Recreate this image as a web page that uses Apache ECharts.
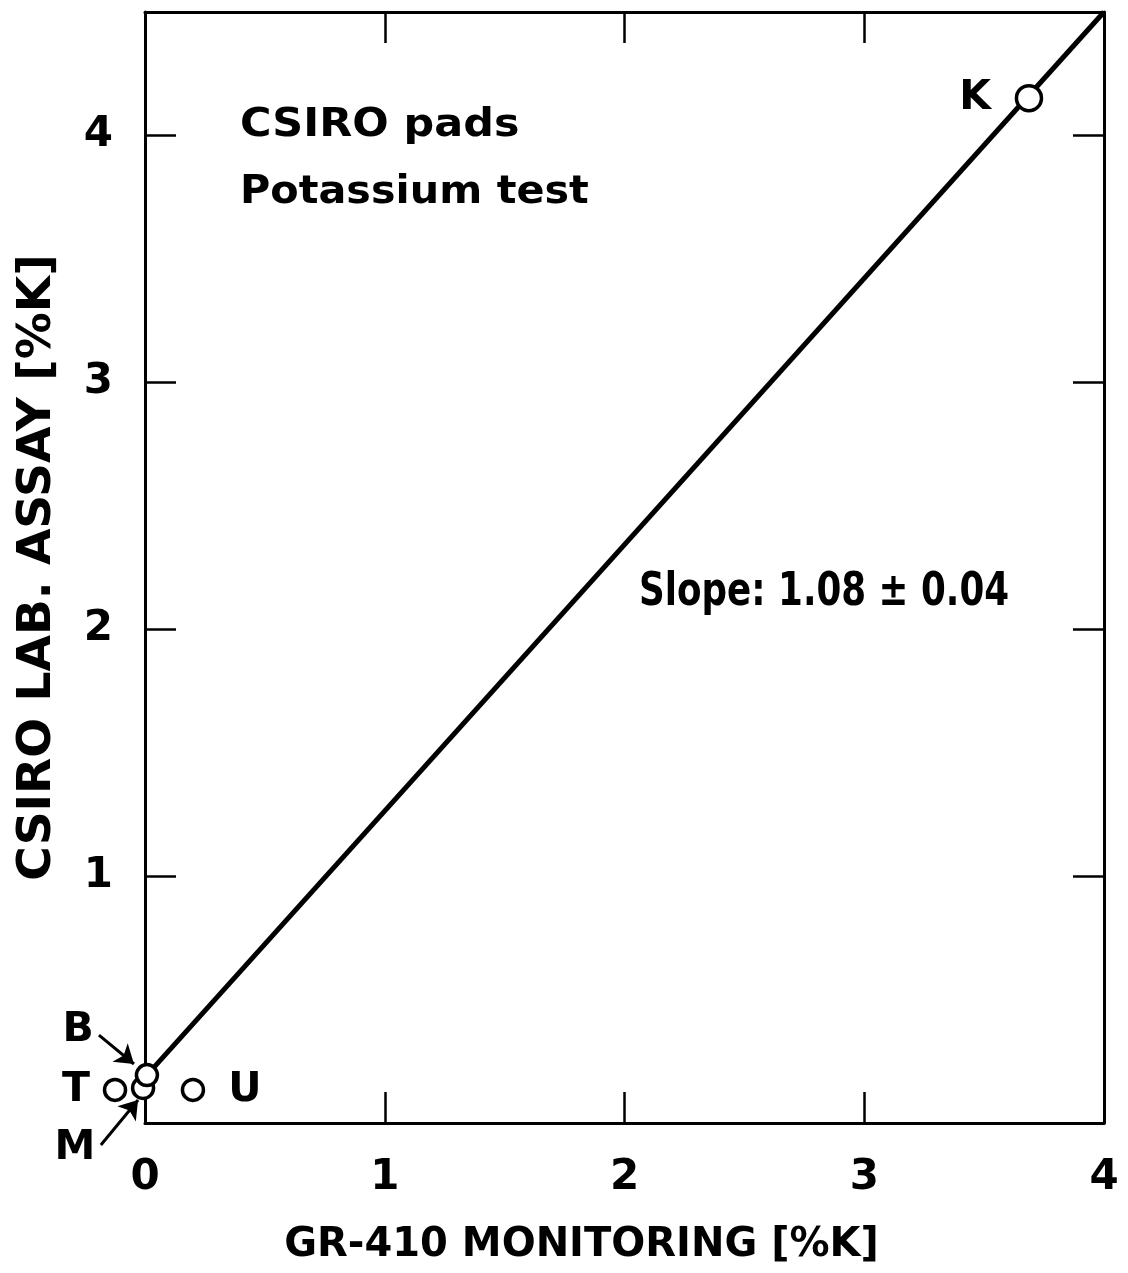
<!DOCTYPE html>
<html><head><meta charset="utf-8">
<script src="https://cdn.jsdelivr.net/npm/echarts@6/dist/echarts.min.js"></script>
<style>html,body{margin:0;padding:0;background:#fff}#c{width:1128px;height:1273px}</style>
</head><body><div id="c"></div>
<script>
// ---- data ----
const pointNames = ['K', 'T', 'U', 'M', 'B'];
const pointX = [3.687, -0.125, 0.200, -0.008, 0.008];
const pointY = [4.151, 0.134, 0.134, 0.142, 0.194];

const fitX = [0.008, 4.0];
const fitY = [0.194, 4.5];

const labelText = ['K', 'U', 'T', 'B', 'M'];
const labelX = [3.462, 0.417, -0.288, -0.279, -0.292];
const labelY = [4.150, 0.134, 0.134, 0.377, -0.101];

const arrowNames = ['B', 'M'];
const arrowFrom = [[-0.192, 0.356], [-0.184, -0.089]];
const arrowTo = [[-0.046, 0.239], [-0.029, 0.093]];

const xTicks = [0, 1, 2, 3, 4];
const yTicks = [1, 2, 3, 4];

const xTitle = 'GR-410 MONITORING [%K]';
const yTitle = 'CSIRO LAB. ASSAY [%K]';
const noteLines = ['CSIRO pads', 'Potassium test'];
const slopeText = 'Slope: 1.08 ± 0.04';

// ---- chart ----
const FONT = 'DejaVu Sans';
const chart = echarts.init(document.getElementById('c'), null, {renderer: 'canvas'});

const axisLineStyle = {color: '#000', width: 3};
const tickStyle = {inside: true, length: 31, lineStyle: {color: '#000', width: 2.5}};
const labelStyle = {color: '#000', fontFamily: FONT, fontWeight: 'bold', fontSize: 42};

const option = {
  backgroundColor: '#fff',
  animation: false,
  grid: {left: 145, right: 24, top: 12, bottom: 150, containLabel: false},
  xAxis: [
    {
      type: 'value', position: 'bottom', min: 0, max: 4, interval: 1,
      axisLine: {show: true, onZero: false, lineStyle: axisLineStyle},
      axisTick: tickStyle, splitLine: {show: false},
      axisLabel: Object.assign({margin: 34, formatter: v => xTicks.includes(v) ? String(v) : ''}, labelStyle),
      name: xTitle, nameLocation: 'middle', nameGap: 103,
      nameTextStyle: {color: '#000', fontFamily: FONT, fontWeight: 'bold', fontSize: 40, padding: [0, 86, 0, 0]}
    },
    {
      type: 'value', position: 'top', min: 0, max: 4, interval: 1,
      axisLine: {show: true, onZero: false, lineStyle: axisLineStyle},
      axisTick: tickStyle, splitLine: {show: false}, axisLabel: {show: false}
    }
  ],
  yAxis: [
    {
      type: 'value', position: 'left', min: 0, max: 4.5, interval: 1,
      axisLine: {show: true, onZero: false, lineStyle: axisLineStyle},
      axisTick: tickStyle, splitLine: {show: false},
      axisLabel: Object.assign({margin: 32, formatter: v => yTicks.includes(v) ? String(v) : ''}, labelStyle),
      name: yTitle, nameLocation: 'middle', nameGap: 84,
      nameTextStyle: {color: '#000', fontFamily: FONT, fontWeight: 'bold', fontSize: 47}
    },
    {
      type: 'value', position: 'right', min: 0, max: 4.5, interval: 1,
      axisLine: {show: true, onZero: false, lineStyle: axisLineStyle},
      axisTick: tickStyle, splitLine: {show: false}, axisLabel: {show: false}
    }
  ],
  series: [
    {
      type: 'line', name: 'fit', clip: false, z: 2,
      data: fitX.map((x, i) => [x, fitY[i]]),
      symbol: 'none', lineStyle: {color: '#000', width: 5}
    },
    {
      type: 'lines', name: 'arrows', coordinateSystem: 'cartesian2d', clip: false, z: 2,
      data: arrowNames.map((n, i) => ({name: n, coords: [arrowFrom[i], arrowTo[i]]})),
      symbol: ['none', 'arrow'], symbolSize: 18,
      lineStyle: {color: '#000', width: 3, opacity: 1}
    },
    {
      type: 'scatter', name: 'samples', clip: false, z: 4,
      data: pointNames.map((n, i) => ({name: n, value: [pointX[i], pointY[i]]})),
      symbol: 'circle',
      symbolSize: (v, p) => p.name === 'K' ? 25 : 21,
      itemStyle: {color: '#fff', borderColor: '#000', borderWidth: 3.5, opacity: 1}
    },
    {
      type: 'scatter', name: 'labels', clip: false, z: 5,
      data: labelText.map((t, i) => ({name: t, value: [labelX[i], labelY[i]]})),
      symbol: 'circle', symbolSize: 1,
      itemStyle: {color: 'rgba(0,0,0,0)', opacity: 1},
      label: {show: true, position: 'inside', formatter: p => p.name, opacity: 1,
        color: '#000', fontFamily: FONT, fontWeight: 'bold', fontSize: 41}
    }
  ],
  graphic: [
    {type: 'text', x: 240, y: 126, scaleX: 1.1, z: 10,
      style: {text: noteLines[0], fill: '#000', font: 'bold 39px "DejaVu Sans"', textAlign: 'left', textVerticalAlign: 'middle'}},
    {type: 'text', x: 240, y: 193, scaleX: 1.06, z: 10,
      style: {text: noteLines[1], fill: '#000', font: 'bold 39px "DejaVu Sans"', textAlign: 'left', textVerticalAlign: 'middle'}},
    {type: 'text', x: 639, y: 593, scaleX: 0.76, z: 10,
      style: {text: slopeText, fill: '#000', font: 'bold 47px "DejaVu Sans"', textAlign: 'left', textVerticalAlign: 'middle'}}
  ]
};
chart.setOption(option);
</script>
</body></html>
